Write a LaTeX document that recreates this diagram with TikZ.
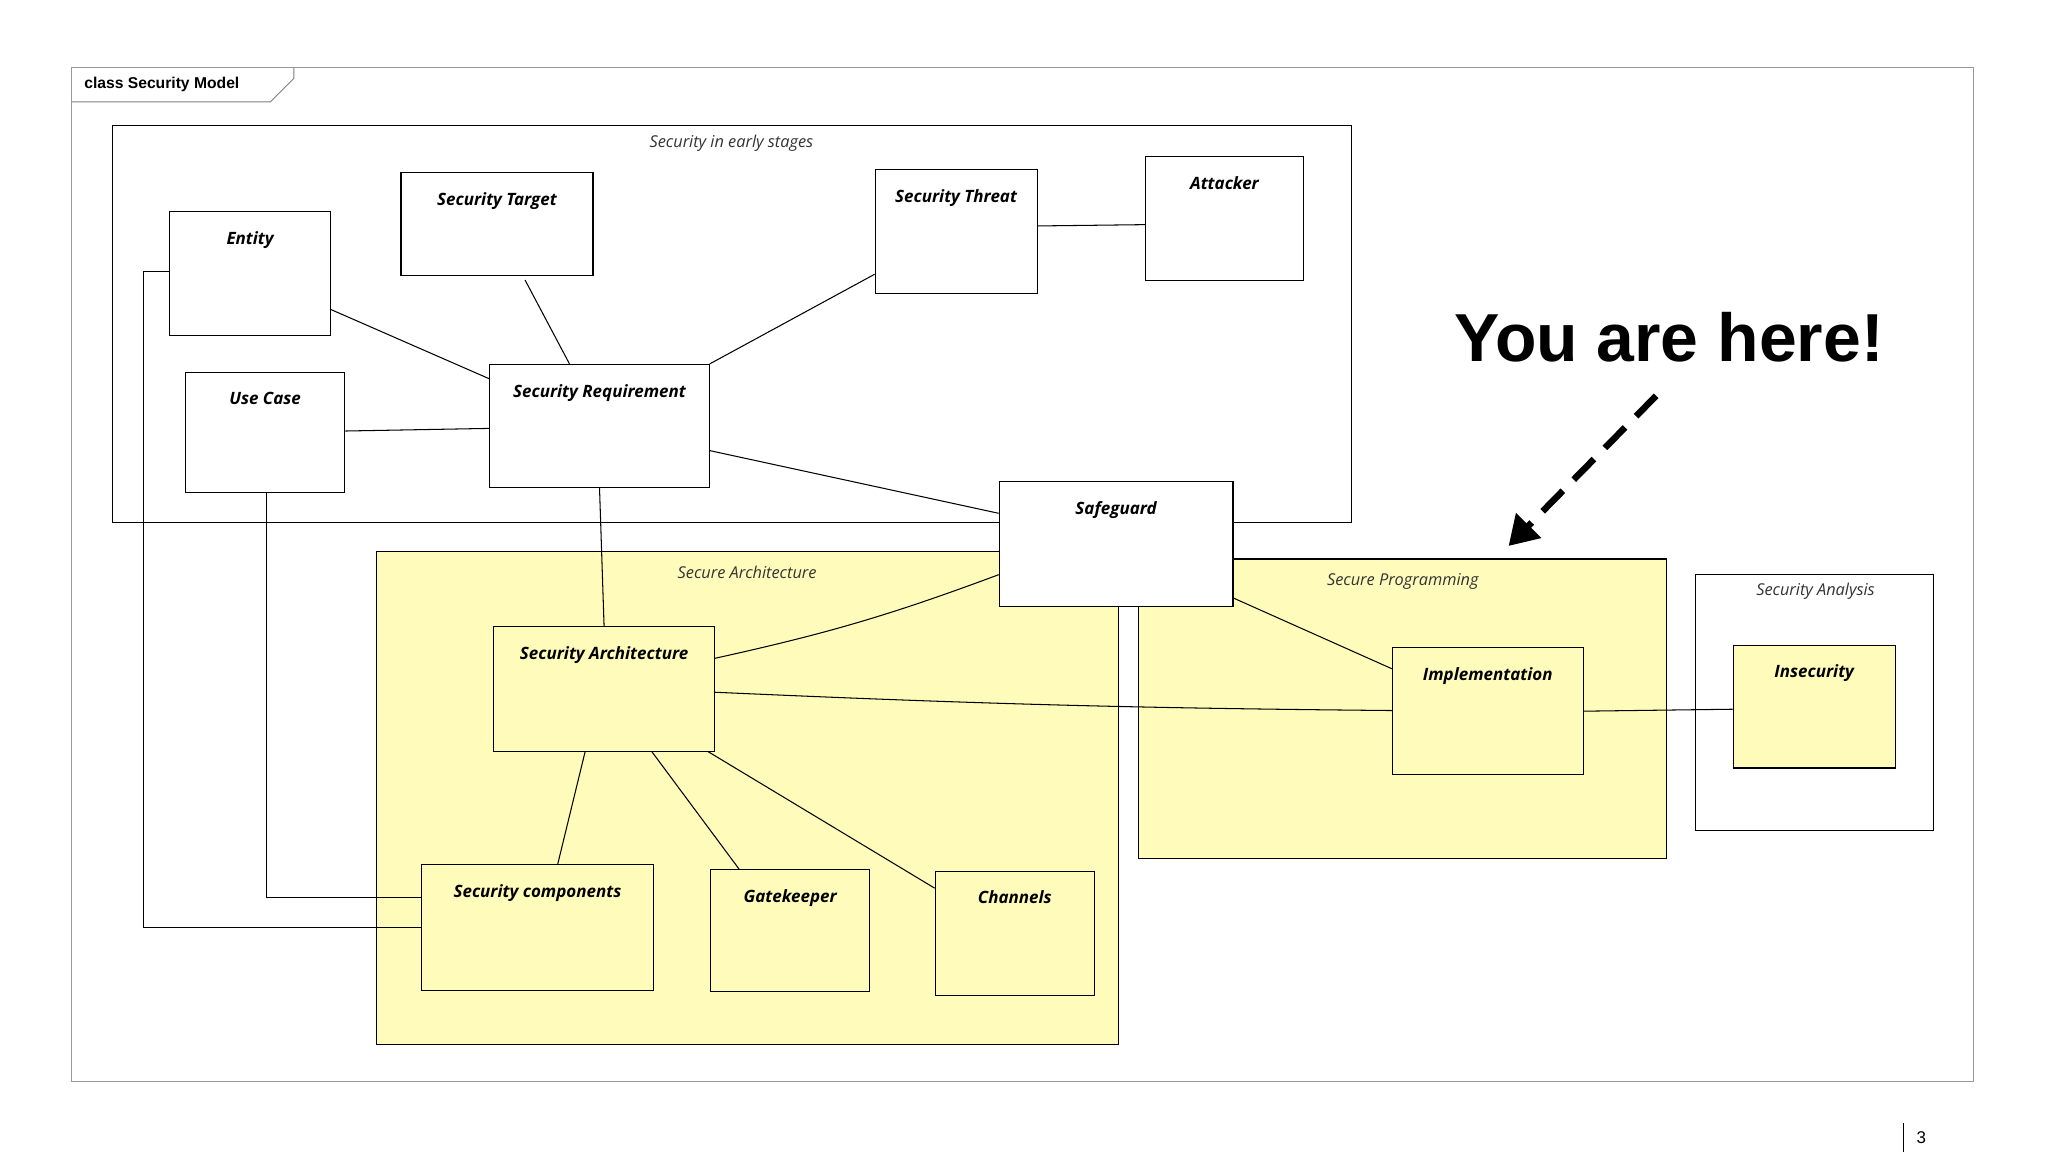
\documentclass[tikz,border=0pt]{standalone}
\usepackage{fontspec}
\setmainfont{Open Sans}
\newfontfamily\hdr{Liberation Sans}
\usetikzlibrary{arrows.meta}
\definecolor{yel}{HTML}{FFFBBA}
\begin{document}
\begin{tikzpicture}[x=1pt,y=-1pt,
  box/.style={draw=black,thick,rectangle,inner sep=0pt},
  lbl/.style={anchor=north,yshift=-12pt,font=\fontsize{13}{15}\selectfont\bfseries\itshape},
  pkg/.style={draw=black,thick},
  plbl/.style={font=\fontsize{12.5}{14}\selectfont\itshape,text=black!80},
  con/.style={draw=black,thick}]
\useasboundingbox (0,0) rectangle (1568,882);
\fill[white] (0,0) rectangle (1568,882);
% frame
\draw[black!40,thick] (55,52) rectangle (1511,828);
\draw[black!50,thick] (55,78) -- (207,78) -- (225,60) -- (225,52);
\node[anchor=west,font=\hdr\bfseries\fontsize{12}{14}\selectfont] (frm) at (61,65) {class Security Model};
% packages
\draw[pkg] (86,96) rectangle (1035,400);
\node[plbl] (p1) at (560,110) {Security in early stages};
\draw[pkg,fill=yel] (288,422) rectangle (856,800);
\node[plbl] (p2) at (572,438) {Secure Architecture};
\draw[pkg,fill=yel] (872,428) rectangle (1276,657);
\node[plbl] (p3) at (1074,445) {Secure Programming};
\draw[pkg] (1298,440) rectangle (1480,636);
\node[plbl] (p4) at (1390,453) {Security Analysis};
% classes
\node[box,minimum width=123,minimum height=95,label={[lbl]north:Entity}] (ent) at (191.5,209.5) {};
\node[box,minimum width=147,minimum height=79,label={[lbl]north:Security Target}] (tgt) at (380.5,171.5) {};
\node[box,minimum width=124,minimum height=95,label={[lbl]north:Security Threat}] (thr) at (732,177.5) {};
\node[box,minimum width=121,minimum height=95,label={[lbl]north:Attacker}] (att) at (937.5,167.5) {};
\node[box,minimum width=122,minimum height=92,label={[lbl]north:Use Case}] (uc) at (203,331) {};
\node[box,minimum width=168,minimum height=94,label={[lbl]north:Security Requirement}] (req) at (459,326) {};
\node[box,fill=white,minimum width=179,minimum height=95,label={[lbl]north:Safeguard}] (sg) at (854.5,416.5) {};
\node[box,fill=yel,minimum width=169,minimum height=95,label={[lbl]north:Security Architecture}] (sa) at (462.5,527.5) {};
\node[box,fill=yel,minimum width=146,minimum height=97,label={[lbl]north:Implementation}] (imp) at (1139,544.5) {};
\node[box,fill=yel,minimum width=124,minimum height=94,label={[lbl]north:Insecurity}] (ins) at (1389,541) {};
\node[box,fill=yel,minimum width=177,minimum height=96,label={[lbl]north:Security components}] (sc) at (411.5,710) {};
\node[box,fill=yel,minimum width=122,minimum height=93,label={[lbl]north:Gatekeeper}] (gk) at (605,712.5) {};
\node[box,fill=yel,minimum width=122,minimum height=95,label={[lbl]north:Channels}] (ch) at (777,714.5) {};
% connectors
\draw[con] ([yshift=-27.5]ent.east) -- ([yshift=36]req.west);
\draw[con] ([xshift=21.5,yshift=-3]tgt.south) -- ([xshift=-23]req.north);
\draw[con] ([yshift=-32.5]thr.west) -- (req.north east);
\draw[con] ([yshift=4.5]thr.east) -- ([yshift=-4.5]att.west);
\draw[con] ([yshift=1]uc.east) -- ([yshift=-2]req.west);
\draw[con] ([yshift=-19]req.east) -- ([yshift=23.5]sg.west);
\draw[con] (req.south) -- (sa.north);
\draw[con] ([yshift=-23.5]sg.west) to[bend left=4] ([yshift=23.5]sa.east);
\draw[con] ([yshift=6.5]sg.south east) -- ([yshift=32.5]imp.west);
\draw[con] ([yshift=-2.5]sa.east) to[bend right=1] ([yshift=0.5]imp.west);
\draw[con] (imp.east) -- ([yshift=-2]ins.west);
\draw[con] ([xshift=-14.5]sa.south) -- ([xshift=15.5]sc.north);
\draw[con] ([xshift=36.5]sa.south) -- ([xshift=-39]gk.north);
\draw[con] ([xshift=79.5]sa.south) -- ([yshift=34.5]ch.west);
\draw[con] ([yshift=1.5]ent.west) -- ++(-20,0) |- (sc.west);
\draw[con] ([xshift=1]uc.south) |- ([yshift=23]sc.west);
% you are here
\node[font=\hdr\bfseries\fontsize{52}{60}\selectfont] (yah) at (1278,258) {You are here!};
\coordinate (as) at (1268,303);
\coordinate (ae) at (1155,418);
\draw[line width=5pt,dash pattern=on 22pt off 12pt,-{Triangle[length=22pt,width=26pt]}] (as) -- (ae);
% page number
\draw[black,thick] (1457,860) -- (1457,882);
\node[font=\hdr\fontsize{13}{15}\selectfont] (pg) at (1471,871) {3};
\end{tikzpicture}
\end{document}
